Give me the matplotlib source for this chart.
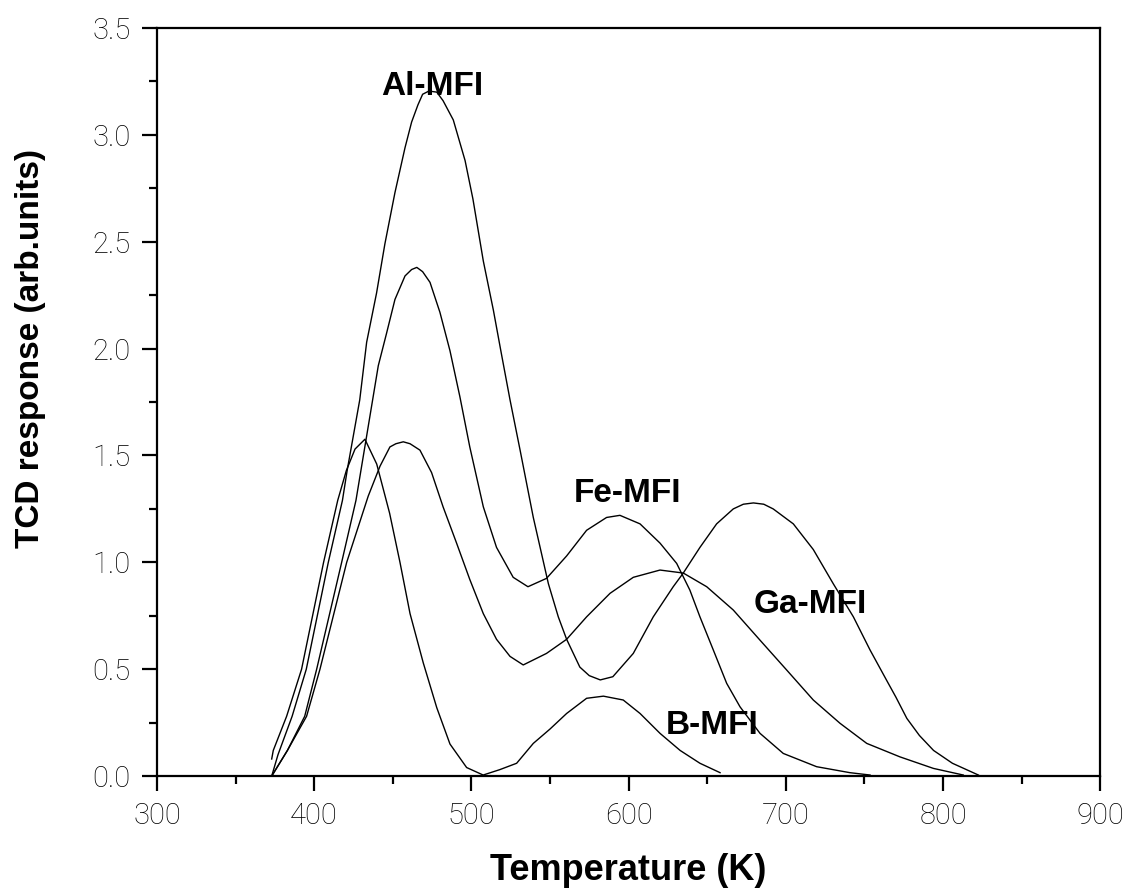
import matplotlib
matplotlib.use("Agg")
import matplotlib.pyplot as plt
from matplotlib.ticker import MultipleLocator

# TPD curves (temperature in K, TCD response)
al_T = [373, 377, 383, 386, 395, 409, 418, 421, 429, 433.4, 439.7, 445, 451.4, 457.8,
        462, 466, 469, 473, 478, 482, 488.5, 496, 501, 507.6, 514, 519, 524.6, 531, 539.4,
        549, 555.3, 560.6, 569, 575, 582, 590, 603, 615.7, 628.4, 634.8, 645.4, 656,
        666.6, 673, 679.4, 686, 692, 704.8, 717.5, 730.2, 743, 753.6, 764, 770, 777,
        785, 794, 806, 815, 822.5]
al_v = [0.0, 0.1, 0.22, 0.28, 0.5, 1.0, 1.29, 1.43, 1.76, 2.03, 2.26, 2.49, 2.73, 2.94,
        3.06, 3.14, 3.19, 3.205, 3.20, 3.16, 3.07, 2.88, 2.70, 2.41, 2.18, 1.98, 1.76,
        1.525, 1.21, 0.9, 0.745, 0.64, 0.51, 0.47, 0.45, 0.465, 0.574, 0.745, 0.886, 0.95,
        1.07, 1.18, 1.25, 1.272, 1.278, 1.272, 1.25, 1.18, 1.06, 0.90, 0.745, 0.59, 0.45,
        0.37, 0.27, 0.19, 0.12, 0.06, 0.03, 0.005]

fe_T = [373, 383, 394, 401.6, 417.5, 426.6, 437.2, 440.8, 446, 451.4, 457.8, 462, 465.3,
        469, 473.7, 480, 486.4, 492.7, 499, 507.6, 516, 526.6, 536, 547.8, 560.6, 573.3,
        586, 594.5, 607.3, 620, 630.6, 639, 645.4, 653.9, 662.4, 670.9, 683.6, 698.4,
        719.6, 740.8, 753.6]
fe_v = [0.0, 0.12, 0.28, 0.5, 1.0, 1.29, 1.76, 1.92, 2.07, 2.23, 2.34, 2.37, 2.38,
        2.36, 2.31, 2.17, 1.99, 1.775, 1.54, 1.26, 1.07, 0.93, 0.886, 0.925, 1.03, 1.15,
        1.21, 1.22, 1.18, 1.09, 0.995, 0.87, 0.745, 0.59, 0.434, 0.324, 0.20, 0.106,
        0.044, 0.016, 0.005]

ga_T = [373, 383, 395.2, 403.7, 420.7, 434.4, 441.9, 448.2, 452, 456.7, 461, 467.3,
        474.7, 482, 490.6, 499, 507.6, 516, 524.6, 533, 547.8, 560.6, 573.3, 588.2, 603,
        620, 634.8, 649.7, 666.6, 683.6, 700.6, 717.5, 734.5, 751.5, 772.6, 793.9, 812.9]
ga_v = [0.0, 0.12, 0.28, 0.5, 1.0, 1.31, 1.45, 1.54, 1.555, 1.564, 1.555, 1.525,
        1.42, 1.26, 1.09, 0.92, 0.76, 0.64, 0.56, 0.52, 0.574, 0.64, 0.745, 0.855, 0.93,
        0.964, 0.95, 0.886, 0.777, 0.636, 0.496, 0.356, 0.247, 0.153, 0.09, 0.036, 0.005]

b_T = [373, 374, 382.5, 392, 406, 415, 420.5, 426, 432.3, 439.8, 448, 454.6, 461, 469.4,
       478, 486.4, 497, 507.5, 518, 528.8, 539.4, 550, 560.6, 573.3, 584, 596.6, 607.3,
       620, 632.8, 645.4, 658.2]
b_v = [0.08, 0.12, 0.28, 0.5, 1.0, 1.29, 1.43, 1.53, 1.576, 1.46, 1.23, 1.0, 0.76, 0.53,
       0.32, 0.15, 0.04, 0.005, 0.03, 0.06, 0.153, 0.22, 0.293, 0.364, 0.374, 0.356, 0.293,
       0.20, 0.12, 0.06, 0.016]

labels = ["Al-MFI", "Fe-MFI", "Ga-MFI", "B-MFI"]
label_pos = [(475, 3.224), (599.6, 1.32), (715.4, 0.805), (653, 0.239)]

fig = plt.figure(figsize=(11.29, 8.89), dpi=100)
ax = fig.add_axes([0.139, 0.127, 0.8355, 0.8415])

for T, v in [(al_T, al_v), (fe_T, fe_v), (ga_T, ga_v), (b_T, b_v)]:
    ax.plot(T, v, color="black", lw=1.0)

for name, (x, y) in zip(labels, label_pos):
    ax.text(x, y, name, ha="center", va="center", fontsize=24,
            fontweight="bold", family="Liberation Sans")

ax.set_xlim(300, 900)
ax.set_ylim(0, 3.5)
ax.xaxis.set_major_locator(MultipleLocator(100))
ax.xaxis.set_minor_locator(MultipleLocator(50))
ax.yaxis.set_major_locator(MultipleLocator(0.5))
ax.yaxis.set_minor_locator(MultipleLocator(0.25))
ax.yaxis.set_major_formatter(plt.FormatStrFormatter("%.1f"))

for s in ax.spines.values():
    s.set_linewidth(1.6)

ax.tick_params(which="major", direction="out", length=11, width=1.6, pad=8,
               labelsize=21, labelcolor="black")
ax.tick_params(which="minor", direction="out", length=5.5, width=1.6)
for lab in ax.get_xticklabels() + ax.get_yticklabels():
    lab.set_family(["Roboto", "DejaVu Sans"])
    lab.set_fontweight("light")

ax.set_xlabel("Temperature (K)", fontsize=26, fontweight="bold",
              family="Liberation Sans", labelpad=16)
ax.set_ylabel("TCD response (arb.units)", fontsize=24, fontweight="bold",
              family="Liberation Sans")
ax.yaxis.set_label_coords(-0.118, 0.572)

fig.savefig("out.png", dpi=100)
